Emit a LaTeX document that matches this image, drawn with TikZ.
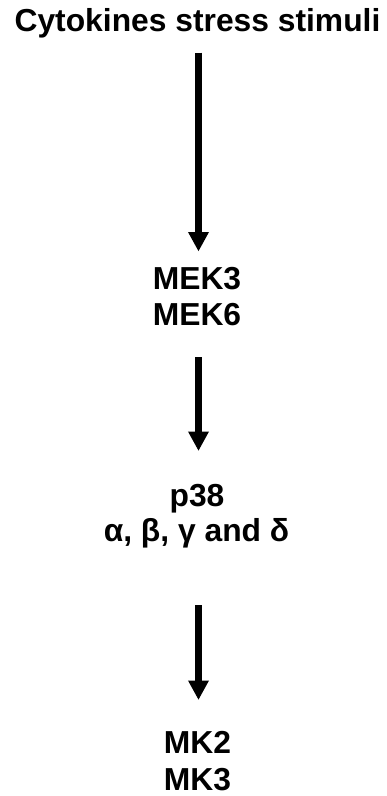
\documentclass[tikz,border=0pt]{standalone}
\usepackage{fontspec}
\setmainfont{Liberation Sans}
\usetikzlibrary{arrows.meta}
\begin{document}
\begin{tikzpicture}[x=1pt,y=-1pt,
  lbl/.style={font=\fontsize{31.8}{36}\selectfont\bfseries, anchor=base, inner sep=0pt},
  flow/.style={line width=6.3pt, -{Triangle[width=19.5pt,length=19.5pt]}}]
\useasboundingbox (0,0) rectangle (386,796);
\node[lbl] (t) at (197.5,31.5) {Cytokines stress stimuli};
\node[lbl] (m1) at (197,289.3) {MEK3};
\node[lbl] (m2) at (197,325.3) {MEK6};
\node[lbl] (p1) at (197,506) {p38};
\node[lbl] (p2) at (196.5,541) {α, β, γ and δ};
\node[lbl] (k1) at (197.5,753) {MK2};
\node[lbl] (k2) at (197.5,790) {MK3};
\coordinate (a1s) at (198.5,52.7);
\coordinate (a1e) at (198.5,251.5);
\coordinate (a2s) at (198.5,357.3);
\coordinate (a2e) at (198.5,451);
\coordinate (a3s) at (198.5,605);
\coordinate (a3e) at (198.5,700);
\draw[flow] (a1s) -- (a1e);
\draw[flow] (a2s) -- (a2e);
\draw[flow] (a3s) -- (a3e);
\end{tikzpicture}
\end{document}
